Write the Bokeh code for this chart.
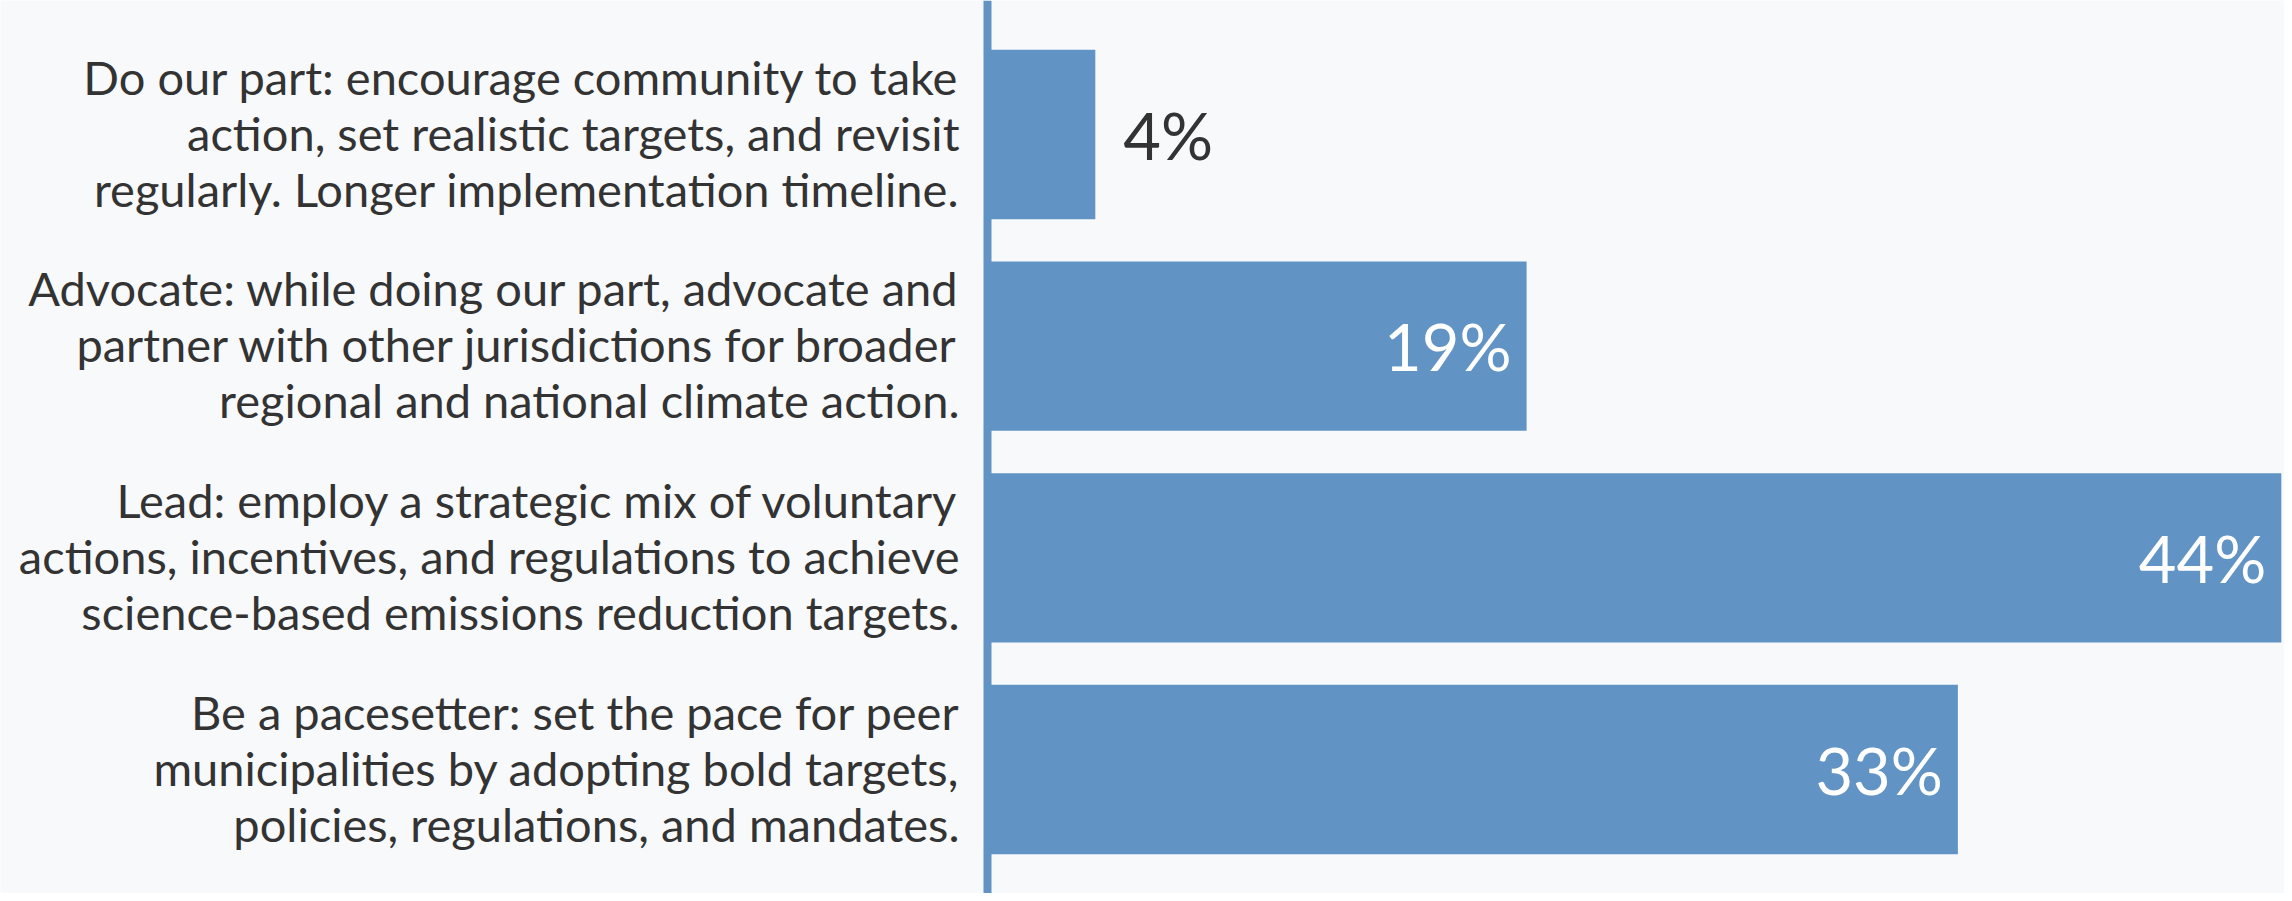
from bokeh.plotting import figure
from bokeh.models import Range1d, Span, ColumnDataSource
from bokeh.core.properties import value
from bokeh.embed import file_html
from bokeh.resources import INLINE

categories = [
    "Do our part: encourage community to take\naction, set realistic targets, and revisit\nregularly. Longer implementation timeline.",
    "Advocate: while doing our part, advocate and\npartner with other jurisdictions for broader\nregional and national climate action.",
    "Lead: employ a strategic mix of voluntary\nactions, incentives, and regulations to achieve\nscience-based emissions reduction targets.",
    "Be a pacesetter: set the pace for peer\nmunicipalities by adopting bold targets,\npolicies, regulations, and mandates.",
]
shares = [3.7, 18.5, 44.4, 33.3]
share_labels = ["4%", "19%", "44%", "33%"]

BAR = "#6193c4"
BG = "#f8f9fb"
TXT = "#333333"
FONT = "Lato"

W, H = 2284, 893
x0_px = 987.0
px_per = 1295.0 / 44.44
y_step = 211.67
y_top_px = 134.0

ypos = list(range(len(categories)))

p = figure(width=W, height=H, output_backend="svg", toolbar_location=None,
           x_axis_type=None, y_axis_type=None, min_border=0,
           background_fill_color=BG, border_fill_color=BG, outline_line_color=None,
           x_range=Range1d(-x0_px / px_per, (W - x0_px) / px_per),
           y_range=Range1d(-y_top_px / y_step + H / y_step, -y_top_px / y_step))
p.grid.visible = False

src = ColumnDataSource(dict(y=ypos, v=shares, cat=categories, lab=share_labels))
p.hbar(y="y", left=0, right="v", height=0.8, fill_color=BAR, line_color=None, source=src)

p.add_layout(Span(location=0, dimension="height", line_color=BAR, line_width=8))

p.text(x=0, y="y", text="cat", source=src, x_offset=-28, y_offset=-2, text_align="right",
       text_baseline="middle", text_font=value(FONT), text_font_size="47px",
       text_color=TXT, text_line_height=1.0)

inside = [i for i, v in enumerate(shares) if v >= 10]
outside = [i for i, v in enumerate(shares) if v < 10]
src_in = ColumnDataSource(dict(y=[ypos[i] for i in inside], v=[shares[i] for i in inside],
                               lab=[share_labels[i] for i in inside]))
src_out = ColumnDataSource(dict(y=[ypos[i] for i in outside], v=[shares[i] for i in outside],
                                lab=[share_labels[i] for i in outside]))
p.text(x="v", y="y", text="lab", source=src_in, x_offset=-15, text_align="right",
       text_baseline="middle", text_font=value(FONT), text_font_size="65px",
       text_color="white")
p.text(x="v", y="y", text="lab", source=src_out, x_offset=28, text_align="left",
       text_baseline="middle", text_font=value(FONT), text_font_size="65px",
       text_color=TXT)

open("out.html", "w").write(file_html(p, INLINE))
